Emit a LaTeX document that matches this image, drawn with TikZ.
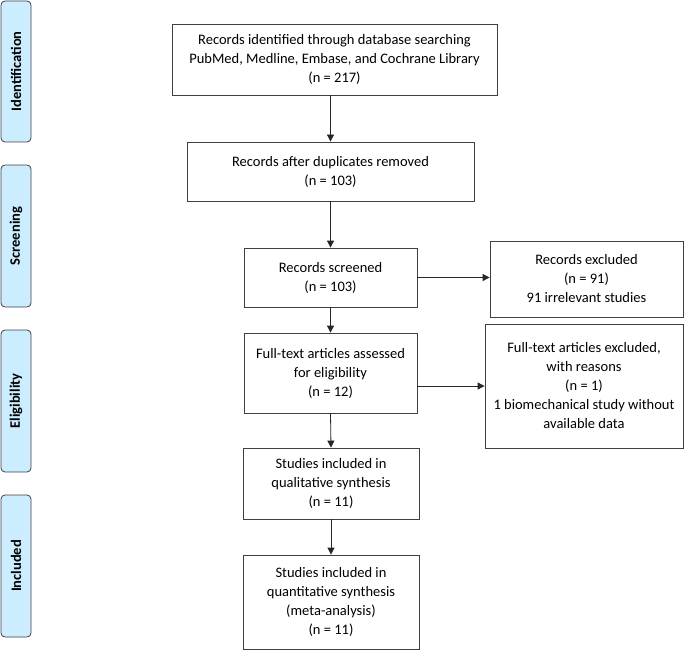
\documentclass[tikz,border=0pt]{standalone}
\usepackage{fontspec}
\setmainfont{Carlito}
\usetikzlibrary{arrows.meta}
\begin{document}
\begin{tikzpicture}[x=1pt,y=-1pt,
  box/.style={draw=black!75, line width=0.8pt, fill=white, align=center, inner sep=0pt,
    font=\fontsize{14.5}{19}\selectfont},
  phase/.style={draw=black!75, line width=0.8pt, fill=phaseblue, rounded corners=4pt,
    minimum width=30pt, inner sep=0pt},
  phasetxt/.style={rotate=90, font=\fontsize{14.5}{16}\selectfont\bfseries},
  arr/.style={draw=black!85, line width=0.8pt, -{Triangle[length=7pt,width=7pt]}}]
\definecolor{phaseblue}{RGB}{204,236,255}
\useasboundingbox (0,0) rectangle (685,650);
% phase bars
\node[phase, minimum height=141pt] (p1) at (16,71.5) {};
\node[phasetxt] (t1) at (p1) {Identification};
\node[phase, minimum height=142pt] (p2) at (16,236) {};
\node[phasetxt] (t2) at (p2) {Screening};
\node[phase, minimum height=142pt] (p3) at (16,401) {};
\node[phasetxt] (t3) at (p3) {Eligibility};
\node[phase, minimum height=142pt] (p4) at (16,566) {};
\node[phasetxt] (t4) at (p4) {Included};
% boxes
\node[box, minimum width=325pt, minimum height=71pt] (b1) at (334.5,59.5)
  {Records identified through database searching\\PubMed, Medline, Embase, and Cochrane Library\\(n = 217)};
\node[box, minimum width=287pt, minimum height=59pt] (b2) at (330.5,171.5)
  {Records after duplicates removed\\(n = 103)};
\node[box, minimum width=173pt, minimum height=59pt] (b3) at (330.5,277.5)
  {Records screened\\(n = 103)};
\node[box, minimum width=193pt, minimum height=76pt] (e1) at (586.5,279)
  {Records excluded\\(n = 91)\\91 irrelevant studies};
\node[box, minimum width=173pt, minimum height=80pt] (b4) at (330.5,373)
  {Full-text articles assessed\\for eligibility\\(n = 12)};
\node[box, minimum width=198pt, minimum height=124pt] (e2) at (584,386)
  {Full-text articles excluded,\\with reasons\\(n = 1)\\1 biomechanical study without\\available data};
\node[box, minimum width=176pt, minimum height=71pt] (b5) at (331,483.5)
  {Studies included in\\qualitative synthesis\\(n = 11)};
\node[box, minimum width=176pt, minimum height=94pt] (b6) at (331,602)
  {Studies included in\\quantitative synthesis\\(meta-analysis)\\(n = 11)};
% arrows
\draw[arr] (b1.south -| b2.north) -- (b2.north);
\draw[arr] (b2.south) -- (b3.north);
\draw[arr] (b3.east) -- (b3.east -| e1.west);
\draw[arr] (b3.south) -- (b4.north);
\draw[arr] (e2.west -| b4.east) -- (e2.west);
\draw[arr] (b4.south) -- (b5.north);
\draw[arr] (b5.south) -- (b6.north);
\end{tikzpicture}
\end{document}
